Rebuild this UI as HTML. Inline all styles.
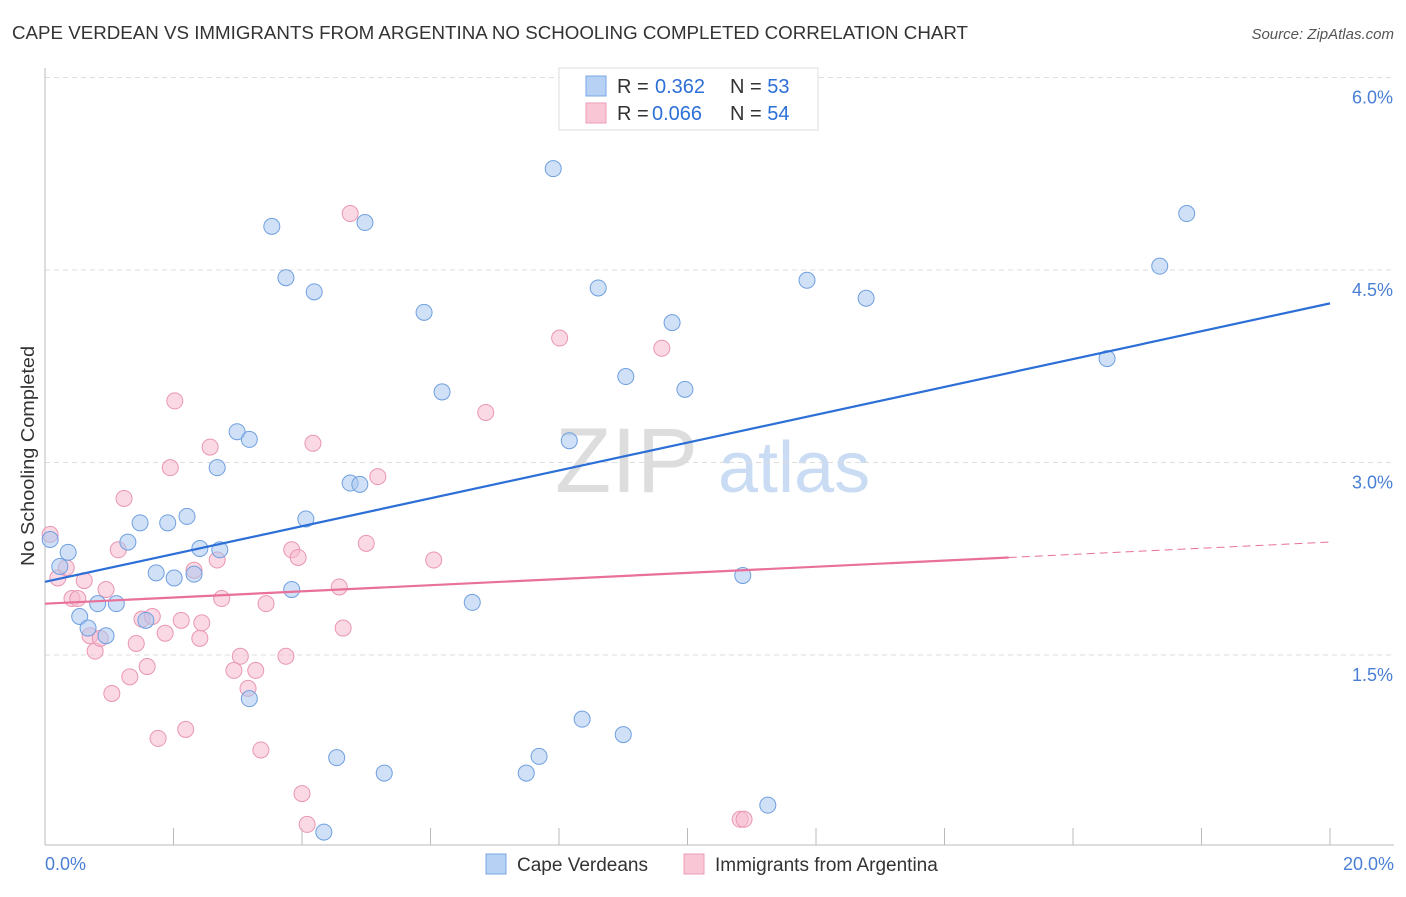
<!DOCTYPE html>
<html><head><meta charset="utf-8"><style>
body{margin:0;background:#fff;font-family:"Liberation Sans",sans-serif;}
svg text{font-family:"Liberation Sans",sans-serif;}
</style></head><body>
<svg id="chart" width="1406" height="892" xmlns="http://www.w3.org/2000/svg">
<text x="12" y="39" font-size="18" fill="#333" textLength="956" lengthAdjust="spacingAndGlyphs">CAPE VERDEAN VS IMMIGRANTS FROM ARGENTINA NO SCHOOLING COMPLETED CORRELATION CHART</text>
<text x="1394" y="39" font-size="15" fill="#555" text-anchor="end" font-style="italic">Source: ZipAtlas.com</text>
<text transform="translate(34,456) rotate(-90)" font-size="18" fill="#333" text-anchor="middle" textLength="220" lengthAdjust="spacingAndGlyphs">No Schooling Completed</text>
<g><text x="555" y="492" font-size="92" fill="#ddd" font-family="Liberation Serif">ZIP</text><text x="718" y="492" font-size="72" fill="#c9dcf3">atlas</text></g>
<g id="grid"></g><g id="marks"></g>
<g>
<rect x="559" y="68" width="259" height="62" fill="#fff" stroke="#ddd"/>
<rect x="586" y="76" width="20" height="20" fill="#b7d1f4" stroke="#7aa7e3"/>
<rect x="586" y="103" width="20" height="20" fill="#f9c6d6" stroke="#ec9db7"/>
<text x="617" y="93" font-size="20" fill="#333">R = <tspan fill="#2c6fd6" x="655">0.362</tspan><tspan x="730">N = </tspan><tspan fill="#2c6fd6">53</tspan></text>
<text x="617" y="120" font-size="20" fill="#333">R = <tspan fill="#2c6fd6" x="652">0.066</tspan><tspan x="730">N = </tspan><tspan fill="#2c6fd6">54</tspan></text>
</g>
<g>
<rect x="486" y="854" width="20" height="20" fill="#b7d1f4" stroke="#7aa7e3"/>
<text x="517" y="871" font-size="19" fill="#333">Cape Verdeans</text>
<rect x="684" y="854" width="20" height="20" fill="#f9c6d6" stroke="#ec9db7"/>
<text x="715" y="871" font-size="19" fill="#333">Immigrants from Argentina</text>
</g>
</svg>
<script>
const yTicks=[1.5,3.0,4.5,6.0];
const yTickLabels=["1.5%","3.0%","4.5%","6.0%"];
const xTickLabels=["0.0%","20.0%"];
const blueX=[0.08,0.36,0.23,0.54,0.67,0.82,0.95,1.11,1.29,1.48,1.57,1.73,1.91,2.01,2.21,2.32,2.41,2.68,2.72,2.99,3.18,3.18,3.53,3.75,3.84,4.06,4.19,4.34,4.54,4.75,4.90,4.98,5.28,5.90,6.18,6.65,7.49,7.69,7.91,8.16,8.36,8.61,9.00,9.04,9.76,9.96,10.86,11.25,11.86,12.78,16.53,17.35,17.77];
const blueY=[2.40,2.30,2.19,1.80,1.71,1.90,1.65,1.90,2.38,2.53,1.77,2.14,2.53,2.10,2.58,2.13,2.33,2.96,2.32,3.24,3.18,1.16,4.84,4.44,2.01,2.56,4.33,0.12,0.70,2.84,2.83,4.87,0.58,4.17,3.55,1.91,0.58,0.71,5.29,3.17,1.00,4.36,0.88,3.67,4.09,3.57,2.12,0.33,4.42,4.28,3.81,4.53,4.94];
const pinkX=[0.08,0.20,0.33,0.42,0.51,0.61,0.70,0.78,0.86,0.95,1.04,1.14,1.23,1.32,1.42,1.51,1.59,1.67,1.76,1.87,1.95,2.02,2.12,2.19,2.32,2.41,2.44,2.57,2.68,2.75,2.94,3.04,3.16,3.28,3.36,3.44,3.75,3.84,3.94,4.00,4.08,4.17,4.58,4.64,4.75,5.00,5.18,6.05,6.86,8.01,9.60,10.82,10.88];
const pinkY=[2.44,2.10,2.18,1.94,1.94,2.08,1.65,1.53,1.63,2.01,1.20,2.32,2.72,1.33,1.59,1.78,1.41,1.80,0.85,1.67,2.96,3.48,1.77,0.92,2.16,1.63,1.75,3.12,2.24,1.94,1.38,1.49,1.24,1.38,0.76,1.90,1.49,2.32,2.26,0.42,0.18,3.15,2.03,1.71,4.94,2.37,2.89,2.24,3.39,3.97,3.89,0.22,0.22];
const blueTrend=[2.07,4.24];
const pinkTrend=[1.90,2.38];
const pinkSolidEnd=15.0;
const X0=45,X1=1330,Y0=847.5,YS=128.33;
const xs=v=>X0+(X1-X0)*v/20, ys=v=>Y0-v*YS;
const NS="http://www.w3.org/2000/svg";
function mk(t,a,p){const e=document.createElementNS(NS,t);for(const k in a)e.setAttribute(k,a[k]);p.appendChild(e);return e;}
const grid=document.getElementById('grid'),marks=document.getElementById('marks');
yTicks.forEach((v,i)=>{
 const l=mk('line',{x1:45,x2:1394,y1:ys(v),y2:ys(v),stroke:'#ddd','stroke-dasharray':'5,4'},grid);
 
 
 const t=mk('text',{x:1393,y:ys(v)+26,'font-size':18,fill:'#4a7fd6','text-anchor':'end'},grid);t.textContent=yTickLabels[i];
 
 
});
mk('line',{x1:45,x2:45,y1:68,y2:845,stroke:'#bbb'},grid);
mk('line',{x1:45,x2:1394,y1:845,y2:845,stroke:'#bbb'},grid);
for(let i=0;i<=10;i++){const t=mk('line',{x1:xs(i*2),x2:xs(i*2),y1:828,y2:845,stroke:'#bbb'},grid);
 
 }
[[0,45,'start'],[1,1394,'end']].forEach(([i,x,a])=>{const t=mk('text',{x:x,y:870,'font-size':18,fill:'#4a7fd6','text-anchor':a},grid);t.textContent=xTickLabels[i];
 
 });
function pts(X,Y,fill,stroke,name){X.forEach((x,i)=>{const c=mk('circle',{cx:xs(x),cy:ys(Y[i]),r:8,fill:fill,'fill-opacity':0.55,stroke:stroke,'stroke-width':1},marks);
 
 });}
pts(pinkX,pinkY,'#f6b9cd','#e996b2','pink-point');
pts(blueX,blueY,'#aac9f1','#6f9fe0','blue-point');
const pv=x=>pinkTrend[0]+(pinkTrend[1]-pinkTrend[0])*x/20;
let l=mk('line',{x1:xs(0),y1:ys(pinkTrend[0]),x2:xs(pinkSolidEnd),y2:ys(pv(pinkSolidEnd)),stroke:'#e8709a','stroke-width':2.2},marks);


l=mk('line',{x1:xs(pinkSolidEnd),y1:ys(pv(pinkSolidEnd)),x2:xs(20),y2:ys(pinkTrend[1]),stroke:'#e8709a','stroke-width':1,'stroke-dasharray':'8,5'},marks);


l=mk('line',{x1:xs(0),y1:ys(blueTrend[0]),x2:xs(20),y2:ys(blueTrend[1]),stroke:'#2c6fd6','stroke-width':2.2},marks);


</script>
</body></html>
